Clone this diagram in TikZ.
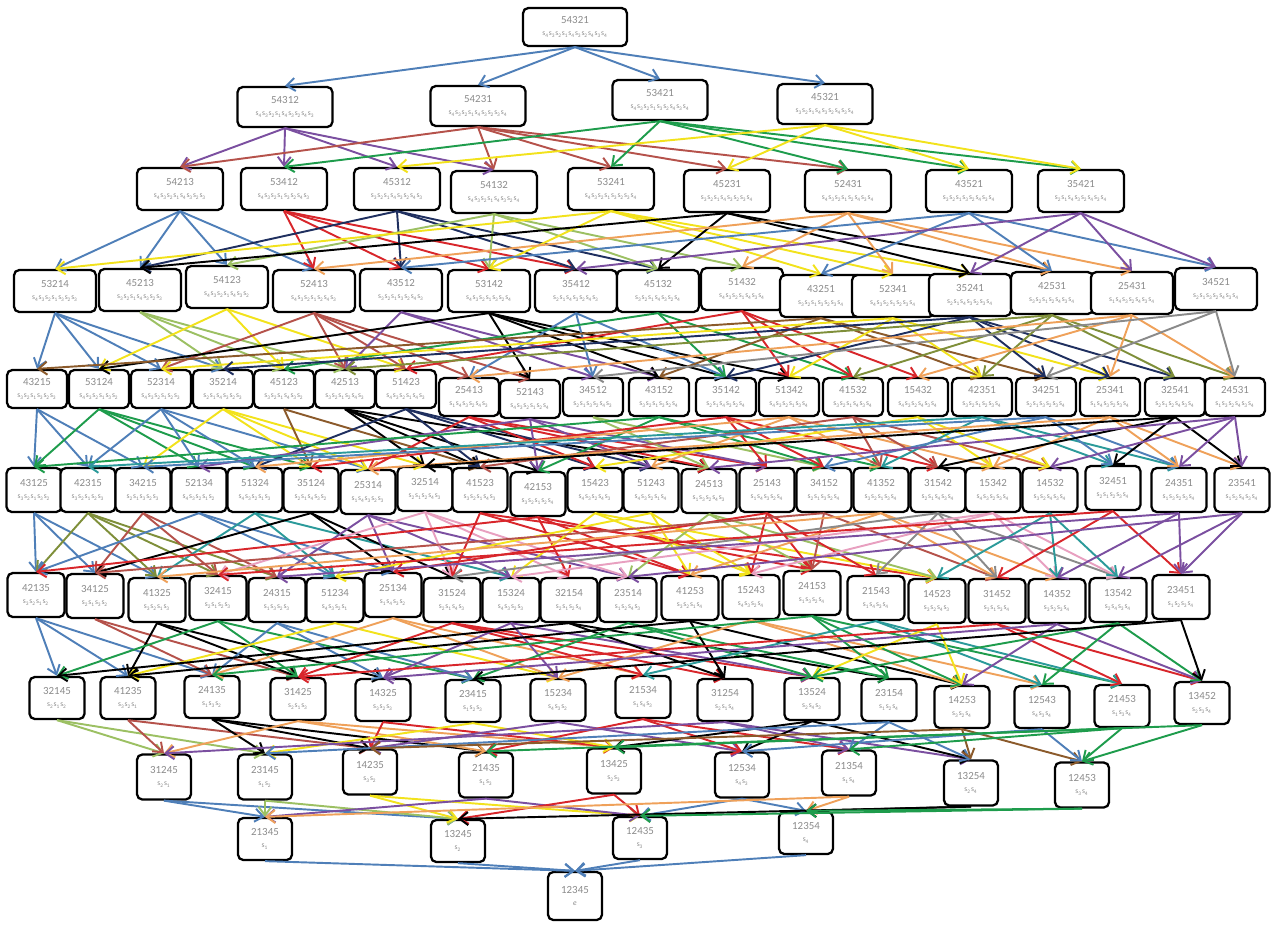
\documentclass[tikz,border=0pt]{standalone}
\usepackage{fontspec}
\setmainfont{Carlito}
\usepackage{xcolor}
\usepackage{tikz}
\usetikzlibrary{arrows.meta}
\definecolor{permgray}{HTML}{8C8C8C}
\definecolor{eblue}{HTML}{4F7FB8}
\definecolor{epurple}{HTML}{7B4FA0}
\definecolor{ebrown}{HTML}{B5524B}
\definecolor{egreen}{HTML}{1E9C4C}
\definecolor{eyellow}{HTML}{F2E21C}
\definecolor{ered}{HTML}{D8262B}
\definecolor{enavy}{HTML}{1F2F5F}
\definecolor{elime}{HTML}{9CC063}
\definecolor{eblack}{HTML}{000000}
\definecolor{etan}{HTML}{EFA15A}
\definecolor{egray}{HTML}{8A8A8A}
\definecolor{edbrown}{HTML}{8B5A2B}
\definecolor{eolive}{HTML}{7F8F3A}
\definecolor{eteal}{HTML}{2B9A9A}
\definecolor{epink}{HTML}{E8A0C0}
\tikzset{
  perm/.style={draw=black,line width=1.3pt,rounded corners=3pt,fill=white,
    align=center,font=\fontsize{6.2}{7}\selectfont,text=permgray,inner sep=1pt},
  link/.style={line width=1.1pt,-{Straight Barb[length=1.7mm,width=2.6mm]}}
}
% reduced word from the Lehmer code
\makeatletter
\newcount\wlen \newcount\wk
\newcommand\sword[1]{\edef\wperm{#1}\def\wany{0}\expandafter\sword@a\wperm\relax
  \ifnum\wany=0 \textit{e}\fi}
\def\sword@a#1#2#3#4#5\relax{%
  \sword@b{1}{#1}{#2#3#4#5}\sword@b{2}{#2}{#3#4#5}%
  \sword@b{3}{#3}{#4#5}\sword@b{4}{#4}{#5}}
\def\sword@b#1#2#3{%
  \wlen=0
  \@tfor\wx:=#3\do{\ifnum\wx<#2 \advance\wlen1 \fi}%
  \wk=\numexpr#1+\wlen-1\relax
  \loop\ifnum\numexpr\wk+1\relax>#1 s\textsubscript{\the\wk}\def\wany{1}\advance\wk-1 \repeat}
\makeatother
\newcommand\permtext[1]{#1\\[-0.3pt]{\fontsize{4.3}{5}\selectfont\sword{#1}}}
% covers: swap adjacent places, swap adjacent values
\def\splitperm#1#2#3#4#5\relax{\def\pA{#1}\def\pB{#2}\def\pC{#3}\def\pD{#4}\def\pE{#5}%
  \expandafter\def\csname ps#1\endcsname{1}\expandafter\def\csname ps#2\endcsname{2}%
  \expandafter\def\csname ps#3\endcsname{3}\expandafter\def\csname ps#4\endcsname{4}%
  \expandafter\def\csname ps#5\endcsname{5}}
\def\swv#1#2#3{\ifnum#1=#2 #3\else\ifnum#1=#3 #2\else#1\fi\fi}
\newcommand\leftedge[3]{%
  \ifnum\numexpr\csname ps#1\endcsname-\csname ps#2\endcsname\relax>1
    \edef\child{\swv\pA{#1}{#2}\swv\pB{#1}{#2}\swv\pC{#1}{#2}\swv\pD{#1}{#2}\swv\pE{#1}{#2}}%
    \draw[link,#3] (p\cur.south) -- (p\child.north);
  \fi}
\newcommand\downedges[2]{%
  \edef\cur{#1}\expandafter\splitperm\cur\relax
  \ifnum\pA>\pB\relax \draw[link,#2] (p\cur.south) -- (p\pB\pA\pC\pD\pE.north);\fi
  \ifnum\pB>\pC\relax \draw[link,#2] (p\cur.south) -- (p\pA\pC\pB\pD\pE.north);\fi
  \ifnum\pC>\pD\relax \draw[link,#2] (p\cur.south) -- (p\pA\pB\pD\pC\pE.north);\fi
  \ifnum\pD>\pE\relax \draw[link,#2] (p\cur.south) -- (p\pA\pB\pC\pE\pD.north);\fi
  \leftedge12{#2}\leftedge23{#2}\leftedge34{#2}\leftedge45{#2}}
% rows: permutation / x / y / colour
\newcommand\rowA{54321/575/27/eblue}
\newcommand\rowB{54312/285/107/epurple, 54231/478/106/ebrown, 53421/660/100/egreen,
  45321/825/104/eyellow}
\newcommand\rowC{54213/180/189/eblue, 53412/284/189/ered, 45312/397/189/enavy,
  54132/494/192/elime, 53241/611/189/eyellow, 45231/727/191/eblack,
  52431/848/191/etan, 43521/969/191/eblue, 35421/1081/191/epurple}
\newcommand\rowD{53214/55/291/eblue, 45213/140/290/elime, 54123/227/287/eyellow,
  52413/314/291/ebrown, 43512/401/290/epurple, 53142/489/291/eblack,
  35412/576/291/eblue, 45132/658/291/egreen, 51432/742/289/ered,
  43251/821/296/edbrown, 52341/893/296/eyellow, 35241/970/295/enavy,
  42531/1052/293/eolive, 25431/1132/293/etan, 34521/1216/289/egray}
\newcommand\rowE{43215/37/389/eblue, 53124/99/389/egreen, 52314/161/389/eblue,
  35214/223/389/eyellow, 45123/284/389/edbrown, 42513/345/389/eblack,
  51423/406/389/enavy, 25413/469/397/ered, 52143/530/399/epurple,
  34512/593/397/elime, 43152/659/397/egreen, 35142/726/397/ered,
  51342/789/397/etan, 41532/853/397/ebrown, 15432/918/397/eyellow,
  42351/982/397/eteal, 34251/1046/397/eblue, 25341/1110/397/etan,
  32541/1175/397/eblack, 24531/1235/397/epurple}
\newcommand\rowF{43125/34/490/eblue, 42315/88/490/eolive, 34215/143/490/ebrown,
  52134/199/490/eblue, 51324/255/490/eteal, 35124/311/490/eblack,
  25314/368/492/epurple, 32514/425/489/epink, 41523/480/490/ered,
  42153/538/494/ered, 15423/595/490/eyellow, 51243/651/490/eyellow,
  24513/709/491/elime, 25143/767/490/ered, 34152/824/490/ebrown,
  41352/881/490/etan, 31542/938/490/egray, 15342/993/490/epink,
  14532/1050/490/eteal, 32451/1113/488/ered, 24351/1179/490/epurple,
  23541/1242/490/epurple}
\newcommand\rowG{42135/36/595/eblue, 34125/95/596/ebrown, 41325/157/600/eblack,
  32415/218/598/egreen, 24315/277/600/eblue, 51234/335/600/eyellow,
  25134/393/595/etan, 31524/452/600/ered, 15324/511/600/epurple,
  32154/569/600/eblack, 23514/628/600/egreen, 41253/690/598/eblack,
  15243/751/597/etan, 24153/812/593/egreen, 21543/876/598/eteal,
  14523/937/601/eyellow, 31452/997/601/ered, 14352/1057/601/epurple,
  13542/1118/600/egreen, 23451/1181/597/eblack}
\newcommand\rowH{32145/57/698/elime, 41235/128/698/ebrown, 24135/212/697/eblack,
  31425/298/699/etan, 14325/383/700/ered, 23415/473/701/eyellow,
  15234/558/700/epurple, 21534/643/697/ered, 31254/725/700/epurple,
  13524/812/699/eblack, 23154/889/700/eblue, 14253/962/707/edbrown,
  12543/1042/707/eblue, 21453/1122/706/egreen, 13452/1202/703/egreen}
\newcommand\rowI{31245/164/777/eblue, 23145/265/777/elime, 14235/370/772/eyellow,
  21435/486/775/epurple, 13425/614/771/ered, 12534/742/775/eblue,
  21354/849/773/etan, 13254/971/783/eblack, 12453/1082/785/egreen}
\newcommand\rowJ{21345/265/839/eblue, 13245/458/841/eblue, 12435/640/838/eblue,
  12354/806/833/eblue}
\newcommand\rowK{12345/575/896/eblue}

\begin{document}
\begin{tikzpicture}[x=0.02cm,y=-0.02cm]
  \useasboundingbox (0,0) rectangle (1288,924);
  % permutations, one row per length
  \foreach \p/\x/\y/\col in \rowA {\node[perm,minimum width=2.08cm,minimum height=0.76cm] (p\p) at (\x,\y) {\permtext{\p}};}
  \foreach \p/\x/\y/\col in \rowB {\node[perm,minimum width=1.9cm,minimum height=0.8cm] (p\p) at (\x,\y) {\permtext{\p}};}
  \foreach \p/\x/\y/\col in \rowC {\node[perm,minimum width=1.72cm,minimum height=0.84cm] (p\p) at (\x,\y) {\permtext{\p}};}
  \foreach \p/\x/\y/\col in \rowD {\node[perm,minimum width=1.64cm,minimum height=0.84cm] (p\p) at (\x,\y) {\permtext{\p}};}
  \foreach \p/\x/\y/\col in \rowE {\node[perm,minimum width=1.2cm,minimum height=0.76cm] (p\p) at (\x,\y) {\permtext{\p}};}
  \foreach \p/\x/\y/\col in \rowF {\node[perm,minimum width=1.1cm,minimum height=0.88cm] (p\p) at (\x,\y) {\permtext{\p}};}
  \foreach \p/\x/\y/\col in \rowG {\node[perm,minimum width=1.14cm,minimum height=0.88cm] (p\p) at (\x,\y) {\permtext{\p}};}
  \foreach \p/\x/\y/\col in \rowH {\node[perm,minimum width=1.1cm,minimum height=0.84cm] (p\p) at (\x,\y) {\permtext{\p}};}
  \foreach \p/\x/\y/\col in \rowI {\node[perm,minimum width=1.08cm,minimum height=0.9cm] (p\p) at (\x,\y) {\permtext{\p}};}
  \foreach \p/\x/\y/\col in \rowJ {\node[perm,minimum width=1.08cm,minimum height=0.84cm] (p\p) at (\x,\y) {\permtext{\p}};}
  \foreach \p/\x/\y/\col in \rowK {\node[perm,minimum width=1.08cm,minimum height=0.96cm] (p\p) at (\x,\y) {\permtext{\p}};}

  % covering arrows
  \foreach \p/\x/\y/\col in \rowA {\downedges{\p}{\col}}
  \foreach \p/\x/\y/\col in \rowB {\downedges{\p}{\col}}
  \foreach \p/\x/\y/\col in \rowC {\downedges{\p}{\col}}
  \foreach \p/\x/\y/\col in \rowD {\downedges{\p}{\col}}
  \foreach \p/\x/\y/\col in \rowE {\downedges{\p}{\col}}
  \foreach \p/\x/\y/\col in \rowF {\downedges{\p}{\col}}
  \foreach \p/\x/\y/\col in \rowG {\downedges{\p}{\col}}
  \foreach \p/\x/\y/\col in \rowH {\downedges{\p}{\col}}
  \foreach \p/\x/\y/\col in \rowI {\downedges{\p}{\col}}
  \foreach \p/\x/\y/\col in \rowJ {\downedges{\p}{\col}}
\end{tikzpicture}
\end{document}
